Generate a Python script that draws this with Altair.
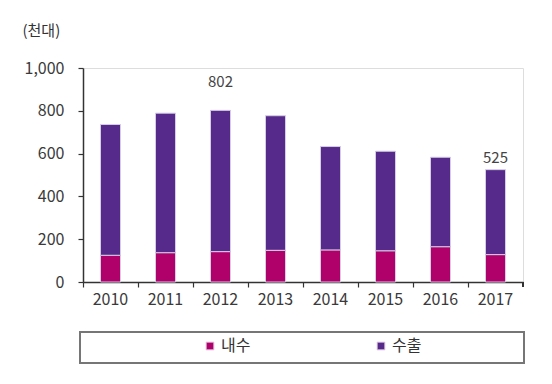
import altair as alt
import pandas as pd

years = ["2010", "2011", "2012", "2013", "2014", "2015", "2016", "2017"]
domestic = [125, 137, 142, 148, 150, 146, 165, 128]
export_ = [611, 652, 660, 629, 483, 465, 418, 397]
series = ["내수", "수출"]
colors = ["#B0006A", "#552A8A"]
label_years = ["2012", "2017"]
label_texts = ["802", "525"]

rows = []
for y, d, e in zip(years, domestic, export_):
    rows.append({"year": y, "series": series[0], "value": d, "ord": 0})
    rows.append({"year": y, "series": series[1], "value": e, "ord": 1})
df = pd.DataFrame(rows)

totals = pd.DataFrame({
    "year": years,
    "total": [d + e for d, e in zip(domestic, export_)],
})
lab = totals[totals["year"].isin(label_years)].copy()
lab["text"] = label_texts

FONT = "Noto Sans CJK KR"

xenc = alt.X("year:N", sort=years,
             scale=alt.Scale(paddingInner=0, paddingOuter=0),
             axis=alt.Axis(title=None, labelAngle=0, bandPosition=0,
                           labelFontSize=16, labelColor="#3a3a3a", labelFont=FONT,
                           domainColor="#333", domainWidth=1.5,
                           tickColor="#333", tickSize=5, tickWidth=1.2,
                           labelPadding=4))

bars = alt.Chart(df).mark_bar(width=20, stroke="#D6CCE6", strokeWidth=1).encode(
    x=xenc,
    y=alt.Y("value:Q", stack="zero",
            scale=alt.Scale(domain=[0, 1000]),
            axis=alt.Axis(values=[0, 200, 400, 600, 800, 1000], format=",d",
                          grid=False, title="(천대)", titleAngle=0,
                          titleX=-61, titleY=-38, titleAlign="left",
                          titleBaseline="middle", titleFontSize=15,
                          titleFontWeight="normal", titleColor="#333",
                          titleFont=FONT,
                          labelFontSize=16, labelColor="#3a3a3a", labelFont=FONT,
                          labelPadding=14,
                          domainColor="#333", domainWidth=1.5,
                          tickColor="#333", tickSize=5, tickWidth=1.2)),
    color=alt.Color("series:N", sort=series,
                    scale=alt.Scale(domain=series, range=colors),
                    legend=alt.Legend(title=None, orient="none", direction="horizontal",
                                      legendX=119, legendY=270,
                                      symbolType="square", symbolSize=60,
                                      symbolStrokeColor="#E0C8E0", symbolStrokeWidth=1,
                                      labelFontSize=16, labelColor="#333", labelFont=FONT,
                                      labelOffset=3, columnPadding=122, padding=0)),
    order=alt.Order("ord:Q"),
)

box = alt.Chart(totals).mark_rect(fill=None, stroke="#777", strokeWidth=1.5).encode(
    x=alt.value(-3), x2=alt.value(441), y=alt.value(264), y2=alt.value(295)
)

end_tick = alt.Chart(totals).mark_rule(color="#333", strokeWidth=1.2).encode(
    x=alt.value(440), y=alt.value(214), y2=alt.value(219)
)

text_base = alt.Chart(lab)
t1 = text_base.mark_text(fontSize=15, color="#444", font=FONT, baseline="middle", dy=-28).encode(
    x=alt.X("year:N", sort=years), y="total:Q", text="text:N"
).transform_filter(alt.datum.year == "2012")
t2 = text_base.mark_text(fontSize=15, color="#444", font=FONT, baseline="middle", dy=-12).encode(
    x=alt.X("year:N", sort=years), y="total:Q", text="text:N"
).transform_filter(alt.datum.year == "2017")

chart = alt.layer(bars, t1, t2, box, end_tick).properties(
    width=440, height=214,
    autosize=alt.AutoSizeParams(type="none"),
    padding={"left": 75, "top": 60, "right": 20, "bottom": 90},
).configure_view(stroke=None).configure(background="white")

chart.save("out.html", embed_options={"renderer": "svg", "actions": False})
